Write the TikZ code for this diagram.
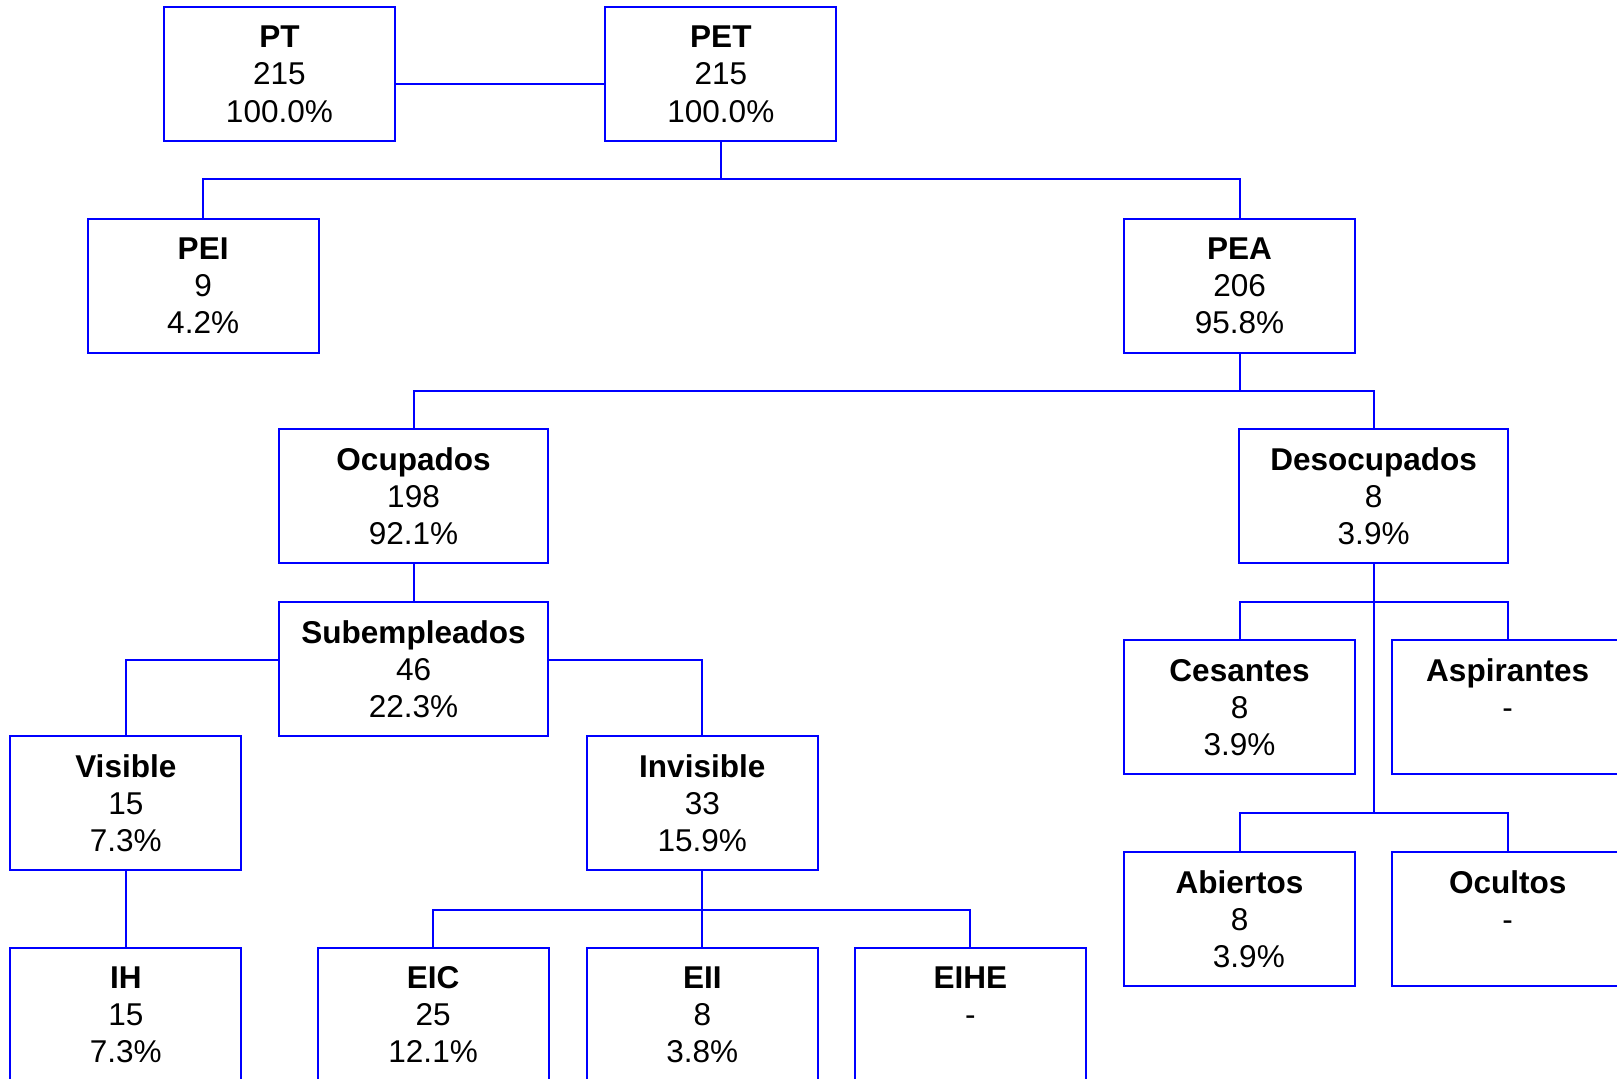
\documentclass[tikz,border=0pt]{standalone}
\usepackage{fontspec}
\setmainfont{Liberation Sans}
\tikzset{font=\fontsize{8.7}{10.24}\selectfont}
\tikzset{every node/.append style={transform shape=false}}
\tikzset{caja/.style={draw=blue, line width=0.55pt, minimum width=2.24cm, minimum height=1.30cm, inner sep=0pt, align=center}}
\tikzset{cajaancha/.style={caja, minimum width=2.61cm}}
\tikzset{linea/.style={draw=blue, line width=0.55pt}}

\begin{document}
\begin{tikzpicture}
  \useasboundingbox (0,0) rectangle (15.68,-10.46);
  \clip (0,0) rectangle (15.68,-10.46);

  \node[caja] (PT) at (2.71,-0.72) {\textbf{PT}\\215\\100.0\%};
  \node[caja] (PET) at (6.99,-0.72) {\textbf{PET}\\215\\100.0\%};
  \node[caja] (PEI) at (1.97,-2.77) {\textbf{PEI}\\9\\4.2\%};
  \node[caja] (PEA) at (12.02,-2.77) {\textbf{PEA}\\206\\95.8\%};
  \node[cajaancha] (Ocup) at (4.01,-4.81) {\textbf{Ocupados}\\198\\92.1\%};
  \node[cajaancha] (Desoc) at (13.32,-4.81) {\textbf{Desocupados}\\8\\3.9\%};
  \node[cajaancha] (Subemp) at (4.01,-6.49) {\textbf{Subempleados}\\46\\22.3\%};
  \node[caja] (Vis) at (1.22,-7.79) {\textbf{Visible}\\15\\7.3\%};
  \node[caja] (Invis) at (6.81,-7.79) {\textbf{Invisible}\\33\\15.9\%};
  \node[caja] (IH) at (1.22,-9.84) {\textbf{IH}\\15\\7.3\%};
  \node[caja] (EIC) at (4.20,-9.84) {\textbf{EIC}\\25\\12.1\%};
  \node[caja] (EII) at (6.81,-9.84) {\textbf{EII}\\8\\3.8\%};
  \node[caja] (EIHE) at (9.41,-9.84) {\textbf{EIHE}\\-\\\mbox{}};
  \node[caja] (Ces) at (12.02,-6.86) {\textbf{Cesantes}\\8\\3.9\%};
  \node[caja] (Asp) at (14.62,-6.86) {\textbf{Aspirantes}\\-\\\mbox{}};
  \node[caja] (Abi) at (12.02,-8.91) {\textbf{Abiertos}\\8\\\hspace*{0.18cm}3.9\%};
  \node[caja] (Ocu) at (14.62,-8.91) {\textbf{Ocultos}\\-\\\mbox{}};

  % conectores
  \draw[linea] (PT.east |- 0,-0.81) -- (PET.west |- 0,-0.81);
  \coordinate (b1) at (6.99,-1.74);
  \draw[linea] (PET.south) -- (b1) -| (PEI.north);
  \draw[linea] (b1) -| (PEA.north);
  \coordinate (b2) at (12.02,-3.79);
  \draw[linea] (PEA.south) -- (b2) -| (Ocup.north);
  \draw[linea] (b2) -| (Desoc.north);
  \draw[linea] (Ocup.south) -- (Subemp.north);
  \draw[linea] (Subemp.west |- 0,-6.40) -| (Vis.north);
  \draw[linea] (Subemp.east |- 0,-6.40) -| (Invis.north);
  \draw[linea] (Vis.south) -- (IH.north);
  \coordinate (b3) at (6.81,-8.82);
  \draw[linea] (Invis.south) -- (EII.north);
  \draw[linea] (b3) -| (EIC.north);
  \draw[linea] (b3) -| (EIHE.north);
  \coordinate (b4) at (13.32,-5.84);
  \coordinate (b5) at (13.32,-7.88);
  \draw[linea] (Desoc.south) -- (b5);
  \draw[linea] (Ces.north) |- (b4) -| (Asp.north);
  \draw[linea] (Abi.north) |- (b5) -| (Ocu.north);
\end{tikzpicture}
\end{document}
